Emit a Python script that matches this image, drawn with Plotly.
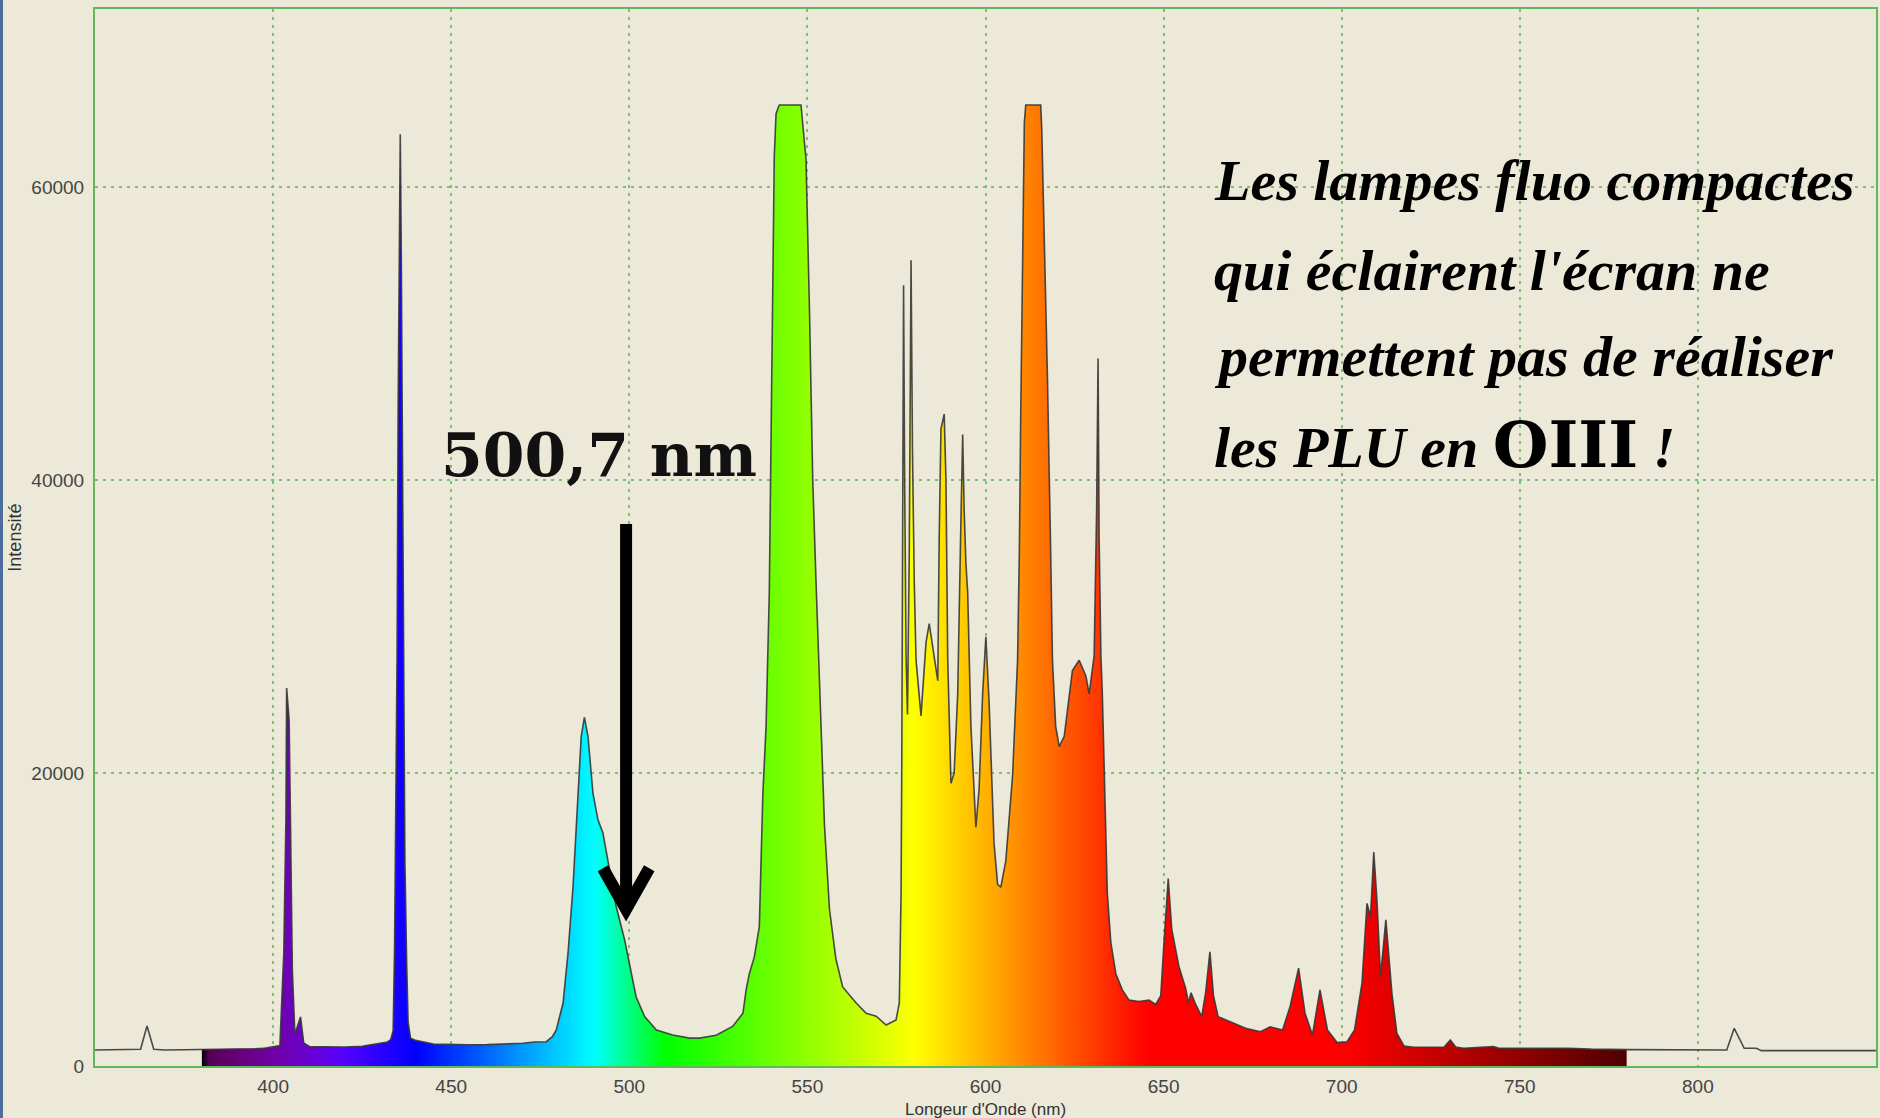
import plotly.graph_objects as go

# ---------------- data ----------------
wavelength_nm = [
    350.0, 355.0, 360.0, 362.8, 364.6, 366.5, 369.6, 375.0, 380.0, 385.0, 390.0, 395.0, 397.1,
    400.0, 401.9, 403.0, 403.6, 403.8, 404.5, 404.9, 405.4, 406.1, 406.5, 407.7, 408.6, 410.3,
    415.0, 420.0, 425.0, 430.0, 432.1, 433.0, 433.7, 434.1, 434.4, 434.8, 435.1, 435.4, 435.7,
    436.0, 436.3, 436.6, 437.0, 437.5, 437.9, 438.6, 440.0, 445.0, 450.0, 455.0, 460.0, 465.0,
    470.0, 473.4, 476.7, 478.4, 479.5, 481.4, 482.8, 484.2, 485.6, 486.5, 487.4, 488.4, 489.8,
    491.2, 492.6, 494.5, 496.3, 498.7, 500.5, 501.9, 504.3, 507.6, 512.2, 516.9, 519.7, 524.4,
    529.0, 531.9, 532.8, 533.7, 535.1, 536.5, 537.5, 538.4, 539.3, 539.8, 540.3, 540.7, 541.2,
    542.1, 548.2, 549.6, 550.6, 551.5, 552.4, 553.8, 554.8, 556.2, 558.0, 559.9, 563.7, 566.5,
    569.3, 572.1, 574.9, 575.8, 576.3, 576.5, 576.8, 577.0, 577.3, 577.7, 578.1, 578.6, 579.1,
    579.5, 580.0, 580.5, 581.9, 583.3, 584.2, 585.2, 586.6, 587.0, 587.5, 588.4, 588.9, 589.4,
    590.3, 591.2, 592.2, 593.0, 593.6, 594.0, 594.5, 595.0, 595.9, 597.3, 598.2, 599.2, 600.1,
    601.0, 602.4, 603.4, 604.3, 605.7, 607.6, 609.0, 609.5, 609.9, 610.4, 610.9, 611.3, 615.5,
    615.8, 616.5, 617.4, 618.3, 618.8, 619.7, 620.7, 622.1, 623.5, 624.4, 626.3, 628.2, 629.1,
    630.5, 631.2, 631.6, 631.9, 632.4, 632.8, 633.3, 634.2, 635.2, 636.6, 638.4, 640.3, 643.1,
    645.9, 647.8, 649.2, 650.1, 651.3, 652.3, 654.3, 656.2, 657.0, 657.7, 659.0, 660.7, 661.8,
    663.0, 664.0, 665.3, 668.8, 673.0, 677.2, 679.9, 683.4, 685.5, 687.9, 689.7, 691.8, 693.9,
    696.0, 698.7, 701.5, 703.6, 705.7, 707.1, 708.1, 709.0, 709.9, 710.9, 712.4, 714.1, 715.5,
    717.5, 720.3, 728.7, 730.5, 732.0, 734.3, 742.6, 744.0, 746.8, 755.0, 763.5, 770.0, 780.0,
    790.0, 800.0, 808.1, 810.2, 813.0, 816.4, 817.8, 830.0, 850.0,
]
intensity = [
    1090, 1100, 1100, 1140, 2730, 1140, 1090, 1100, 1140, 1150, 1150, 1180, 1200,
    1300, 1400, 7700, 16800, 25800, 23600, 16300, 6560, 2250, 2480, 3350, 1570, 1320,
    1300, 1300, 1350, 1550, 1640, 1800, 2400, 8000, 15000, 28000, 45000, 58000, 63600,
    55000, 40000, 26000, 14000, 7000, 3000, 1900, 1750, 1500, 1450, 1450, 1460, 1500,
    1550, 1640, 1660, 2000, 2460, 4300, 7700, 12250, 19100, 22500, 23800, 22500, 18600,
    16800, 15900, 13200, 10900, 8600, 6350, 4730, 3370, 2460, 2120, 1900, 1900, 2100,
    2700, 3600, 5200, 6300, 7450, 9500, 18600, 23200, 32300, 42500, 50500, 62100, 65000,
    65600, 65600, 61900, 51400, 40000, 33200, 23200, 16400, 10700, 7300, 5400, 4300, 3600,
    3400, 2800, 3150, 4300, 11800, 20900, 40000, 53300, 40000, 28000, 24000, 35000, 55000,
    42000, 33000, 27700, 23900, 28900, 30200, 28600, 26300, 36000, 43500, 44500, 40000, 27700,
    19300, 20000, 25400, 36000, 43100, 38000, 34300, 32300, 23200, 16300, 18900, 25400, 29300,
    24900, 15200, 12400, 12200, 14000, 19800, 27700, 35000, 44600, 56600, 64400, 65600, 65600,
    63900, 57100, 46900, 35000, 27700, 23200, 21800, 22500, 25400, 27000, 27700, 26600, 25400,
    28000, 38000, 48300, 36000, 28000, 25400, 19800, 11800, 8400, 6300, 5200, 4500, 4400,
    4500, 4200, 4800, 8400, 12800, 9300, 6800, 5300, 4300, 5000, 4200, 3370, 5000,
    7800, 4800, 3370, 3030, 2570, 2340, 2680, 2460, 4050, 6680, 3600, 2120, 5200,
    2460, 1600, 1660, 2460, 5650, 11100, 10200, 14600, 11300, 6100, 9970, 4960, 2230,
    1370, 1280, 1280, 1780, 1300, 1210, 1320, 1220, 1210, 1200, 1210, 1150, 1120,
    1100, 1090, 1090, 2570, 1210, 1210, 1050, 1050, 1050,
]

x_ticks = [400, 450, 500, 550, 600, 650, 700, 750, 800]
y_ticks = [0, 20000, 40000, 60000]
visible_range = (380, 780)

x_title = "Longeur d'Onde (nm)"
y_title = "Intensité"
line_label = "500,7 nm"
note_lines = [
    "Les lampes fluo compactes",
    "qui éclairent l'écran ne",
    "permettent pas de réaliser",
    "les PLU en <span style=\"font-family:'DejaVu Serif';font-style:normal;font-size:64px\">OIII</span> !",
]

# ---------------- style ----------------
BG = "#ECE9D8"
FRAME = "#5fb85a"
GRID = "#72c672"
SCRIPT_FONT = "Liberation Serif"


def wavelength_color(w):
    if w < 440:
        r, g, b = -(w - 440) / 60.0, 0.0, 1.0
    elif w < 490:
        r, g, b = 0.0, (w - 440) / 50.0, 1.0
    elif w < 510:
        r, g, b = 0.0, 1.0, -(w - 510) / 20.0
    elif w < 580:
        r, g, b = (w - 510) / 70.0, 1.0, 0.0
    elif w < 645:
        r, g, b = 1.0, -(w - 645) / 65.0, 0.0
    else:
        r, g, b = 1.0, 0.0, 0.0
    if w < 420:
        f = 0.3 + 0.7 * (w - 380) / 40.0
    elif w <= 700:
        f = 1.0
    else:
        f = 0.3 + 0.7 * (780 - w) / 80.0
    return "rgb(%d,%d,%d)" % (round(255 * r * f), round(255 * g * f), round(255 * b * f))


lo, hi = visible_range
colorscale = [[0.0, "rgb(0,0,0)"]]
for w in range(lo + 2, hi + 1, 2):
    colorscale.append([(w - lo) / (hi - lo), wavelength_color(w)])

fill_x = [w for w in wavelength_nm if lo <= w <= hi]
fill_y = [v for w, v in zip(wavelength_nm, intensity) if lo <= w <= hi]

fig = go.Figure()
fig.add_trace(go.Scatter(
    x=fill_x, y=fill_y, mode="lines", fill="tozeroy",
    line=dict(width=0, color="rgba(0,0,0,0)"),
    fillgradient=dict(type="horizontal", colorscale=colorscale, start=lo, stop=hi),
    hoverinfo="skip", showlegend=False,
))
fig.add_trace(go.Scatter(
    x=wavelength_nm, y=intensity, mode="lines",
    line=dict(color="rgba(55,55,55,0.9)", width=1.6),
    showlegend=False,
))

axis_common = dict(
    showline=True, linecolor=FRAME, linewidth=2, mirror=True,
    showgrid=True, gridcolor=GRID, gridwidth=1.5, griddash="3px,5px",
    zeroline=False, ticks="",
    tickfont=dict(family="Liberation Sans", size=19, color="#444444"),
)
fig.update_xaxes(range=[350, 850], tickvals=x_ticks, ticklabelstandoff=2, **axis_common)
fig.update_yaxes(range=[0, 72150], tickvals=y_ticks, tickformat="d", ticklabelstandoff=5, **axis_common)

annotations = [
    dict(text=x_title, xref="paper", yref="paper", x=0.5, y=-0.041, showarrow=False,
         xanchor="center", yanchor="middle",
         font=dict(family="Liberation Sans", size=17, color="#333333")),
    dict(text=y_title, xref="paper", yref="paper", x=-0.0454, y=0.5, showarrow=False,
         textangle=-90, xanchor="center", yanchor="middle",
         font=dict(family="Liberation Sans", size=18, color="#333333")),
    dict(text="<b>%s</b>" % line_label, xref="x", yref="y", x=491.5, y=41700, showarrow=False,
         xanchor="center", yanchor="middle",
         font=dict(family="DejaVu Serif", size=60, color="#111111")),
]
note_y = [60450, 54300, 48430, 42400]
for txt, yy in zip(note_lines, note_y):
    annotations.append(dict(
        text="<b><i>%s</i></b>" % txt, xref="x", yref="y", x=663.6, y=yy, showarrow=False,
        xanchor="left", yanchor="middle",
        font=dict(family=SCRIPT_FONT, size=58, color="#000000"),
    ))

# arrow pointing at 500,7 nm
arrow_x = 499.1
arrow_top, arrow_tip = 37000, 10700
arm_dx, arm_y = 6.5, 13500
shapes = [
    dict(type="line", xref="x", yref="y", x0=arrow_x, x1=arrow_x, y0=arrow_top, y1=arrow_tip + 600,
         line=dict(color="#000000", width=12)),
    dict(type="path", xref="x", yref="y",
         path="M %f,%f L %f,%f L %f,%f" % (arrow_x - arm_dx, arm_y, arrow_x, arrow_tip, arrow_x + arm_dx, arm_y),
         line=dict(color="#000000", width=12)),
    # window border at left edge
    dict(type="line", xref="paper", yref="paper", x0=-0.0525, x1=-0.0525, y0=-0.06, y1=1.02,
         line=dict(color="#4d6d9d", width=3)),
]

fig.update_layout(
    width=1880, height=1118,
    margin=dict(l=95, r=2, t=9, b=52),
    paper_bgcolor=BG, plot_bgcolor=BG,
    annotations=annotations, shapes=shapes,
    showlegend=False,
)

fig.write_html(
    "out.html",
    config={"displayModeBar": False},
    post_script="document.body.style.margin='0px';document.body.style.overflow='hidden';",
)
